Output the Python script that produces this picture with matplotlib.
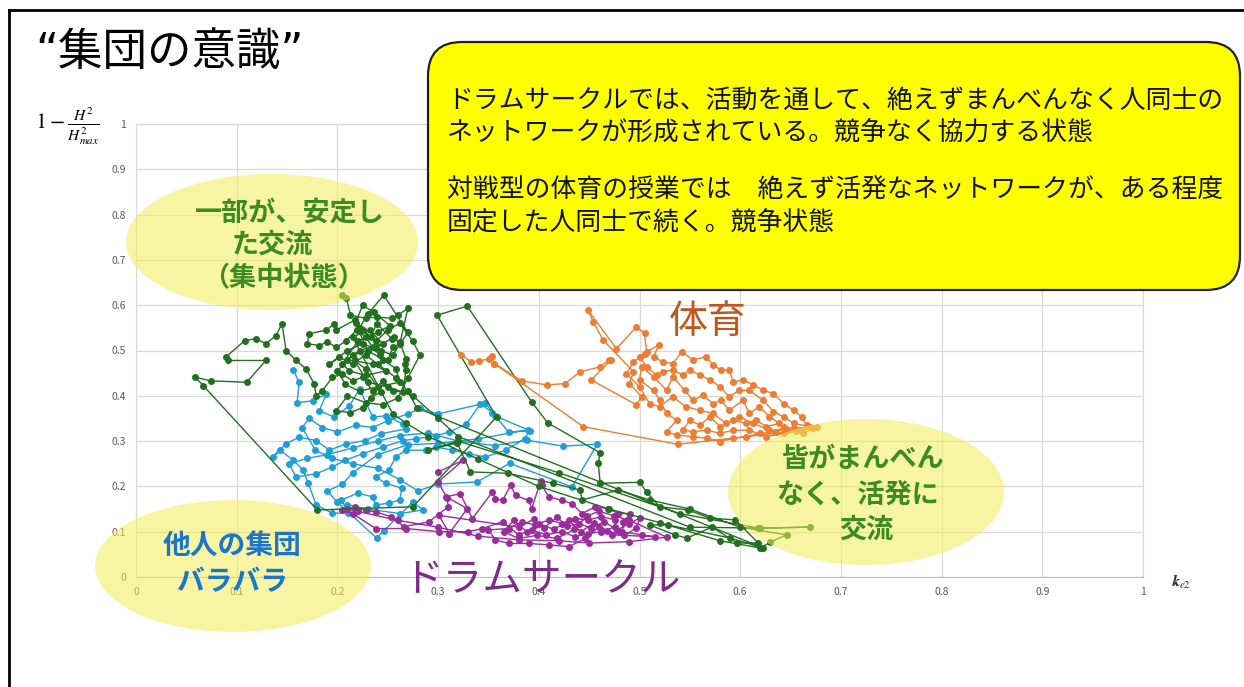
import matplotlib
matplotlib.use("Agg")
import matplotlib.pyplot as plt
from matplotlib.patches import Ellipse, FancyBboxPatch
import numpy as np

plt.rcParams['font.family'] = ['Noto Sans CJK JP', 'DejaVu Sans']
plt.rcParams['mathtext.fontset'] = 'stix'

# ---------------- data (x = k_e2, y = 1 - H^2/H^2max) ----------------
orange_xy = [
    (0.323,0.490),(0.333,0.475),(0.341,0.477),(0.351,0.482),(0.354,0.487),(0.356,0.471),
    (0.383,0.433),(0.408,0.424),(0.426,0.427),(0.441,0.453),(0.461,0.464),(0.470,0.479),(0.472,0.480),(0.452,0.435),
    (0.497,0.380),(0.502,0.398),(0.490,0.427),(0.494,0.453),(0.464,0.523),(0.454,0.563),(0.449,0.589),(0.477,0.504),
    (0.497,0.552),(0.505,0.538),(0.507,0.497),(0.519,0.512),(0.514,0.486),(0.523,0.475),(0.533,0.471),(0.542,0.497),
    (0.553,0.479),(0.566,0.486),(0.573,0.468),(0.581,0.457),(0.589,0.457),(0.593,0.431),(0.603,0.435),(0.613,0.424),
    (0.623,0.412),(0.633,0.405),(0.643,0.383),(0.653,0.368),(0.661,0.354),(0.666,0.335),(0.676,0.332),(0.653,0.328),
    (0.643,0.332),(0.636,0.321),(0.620,0.317),(0.606,0.310),(0.593,0.306),(0.580,0.299),(0.567,0.306),(0.553,0.310),
    (0.537,0.313),(0.527,0.321),(0.537,0.346),(0.527,0.361),(0.520,0.390),(0.514,0.412),(0.500,0.435),(0.502,0.464),
    (0.514,0.442),(0.527,0.412),(0.533,0.442),(0.545,0.412),(0.553,0.390),(0.563,0.401),(0.573,0.383),(0.581,0.390),
    (0.589,0.368),(0.603,0.390),(0.609,0.361),(0.619,0.376),(0.629,0.354),(0.639,0.339),(0.626,0.332),(0.616,0.346),
    (0.606,0.339),(0.593,0.346),(0.580,0.332),(0.570,0.354),(0.560,0.335),(0.550,0.346),(0.543,0.324),(0.553,0.321),
    (0.567,0.324),(0.580,0.317),(0.593,0.324),(0.609,0.324),(0.626,0.310),(0.643,0.317),(0.659,0.324),(0.669,0.332),
    (0.653,0.339),(0.643,0.354),(0.633,0.365),(0.623,0.390),(0.609,0.412),(0.599,0.412),(0.589,0.398),(0.580,0.420),
    (0.570,0.435),(0.560,0.446),(0.550,0.457),(0.543,0.446),(0.533,0.457),(0.523,0.453),(0.517,0.446),(0.507,0.464),
    (0.500,0.486),(0.505,0.493),(0.494,0.475),(0.487,0.449),(0.500,0.420),(0.510,0.383),(0.520,0.376),(0.533,0.398),
    (0.546,0.376),(0.560,0.368),(0.573,0.361),(0.586,0.339),(0.599,0.354),(0.613,0.339),(0.629,0.324),(0.646,0.324),
    (0.662,0.317),(0.672,0.328),(0.655,0.322),(0.538,0.293),(0.444,0.332),(0.356,0.471),
]

blue_xy = [
    (0.156,0.458),(0.162,0.430),(0.160,0.385),(0.176,0.389),(0.189,0.404),(0.182,0.367),(0.197,0.353),(0.212,0.378),
    (0.222,0.415),(0.235,0.353),(0.248,0.356),(0.265,0.338),(0.268,0.327),(0.243,0.316),(0.227,0.301),(0.209,0.294),
    (0.192,0.280),(0.179,0.301),(0.162,0.309),(0.149,0.294),(0.136,0.265),(0.143,0.280),(0.156,0.258),(0.166,0.236),
    (0.171,0.207),(0.179,0.159),(0.195,0.141),(0.211,0.141),(0.204,0.170),(0.220,0.185),(0.235,0.177),(0.238,0.159),
    (0.251,0.163),(0.262,0.170),(0.264,0.196),(0.248,0.207),(0.238,0.221),(0.251,0.236),(0.258,0.265),(0.268,0.280),
    (0.288,0.280),(0.298,0.287),(0.314,0.280),(0.331,0.272),(0.347,0.265),(0.367,0.280),(0.386,0.305),(0.391,0.323),
    (0.370,0.320),(0.354,0.363),(0.342,0.382),(0.328,0.338),(0.311,0.320),(0.298,0.312),(0.278,0.305),(0.265,0.301),
    (0.245,0.287),(0.225,0.272),(0.208,0.258),(0.195,0.243),(0.179,0.228),(0.159,0.221),(0.152,0.250),(0.170,0.262),
    (0.190,0.270),(0.215,0.285),(0.240,0.300),(0.262,0.312),(0.290,0.318),(0.320,0.300),(0.357,0.290),(0.388,0.302),
    (0.424,0.289),(0.458,0.293),(0.433,0.199),(0.371,0.251),(0.339,0.210),(0.300,0.205),(0.280,0.190),(0.262,0.215),
    (0.240,0.240),(0.215,0.250),(0.195,0.262),(0.178,0.280),(0.165,0.330),(0.172,0.350),(0.185,0.330),(0.200,0.320),
    (0.218,0.335),(0.235,0.330),(0.250,0.345),(0.270,0.360),(0.282,0.372),(0.300,0.360),(0.347,0.384),(0.357,0.355),
    (0.389,0.325),(0.340,0.305),(0.300,0.295),(0.270,0.292),(0.240,0.270),(0.215,0.230),(0.205,0.205),(0.190,0.190),
    (0.200,0.165),(0.239,0.086),(0.246,0.102),(0.275,0.166),(0.285,0.148),(0.262,0.140),(0.230,0.150),(0.210,0.160),
]

purple_xy = [
    (0.300,0.232),(0.325,0.258),(0.300,0.210),(0.309,0.174),(0.310,0.155),(0.291,0.122),(0.266,0.111),(0.253,0.133),
    (0.238,0.144),(0.228,0.147),(0.217,0.155),(0.205,0.147),(0.215,0.140),(0.238,0.107),(0.268,0.107),(0.301,0.100),
    (0.330,0.100),(0.344,0.107),(0.364,0.122),(0.380,0.093),(0.393,0.104),(0.407,0.093),(0.423,0.100),(0.436,0.089),
    (0.449,0.096),(0.462,0.100),(0.476,0.111),(0.476,0.126),(0.462,0.133),(0.449,0.126),(0.436,0.129),(0.423,0.118),
    (0.410,0.126),(0.396,0.115),(0.383,0.122),(0.370,0.107),(0.350,0.104),(0.357,0.082),(0.370,0.074),(0.390,0.074),
    (0.410,0.071),(0.430,0.067),(0.446,0.085),(0.460,0.111),(0.473,0.093),(0.515,0.089),(0.502,0.093),(0.483,0.100),
    (0.484,0.122),(0.491,0.140),(0.479,0.140),(0.469,0.151),(0.456,0.155),(0.443,0.140),(0.433,0.162),(0.423,0.169),
    (0.410,0.177),(0.403,0.202),(0.402,0.213),(0.393,0.151),(0.390,0.169),(0.377,0.180),(0.372,0.202),(0.364,0.169),
    (0.357,0.173),(0.354,0.188),(0.334,0.129),(0.322,0.184),(0.308,0.177),(0.329,0.151),(0.311,0.096),(0.301,0.136),
    (0.380,0.110),(0.395,0.128),(0.405,0.108),(0.418,0.132),(0.428,0.112),(0.440,0.118),(0.452,0.108),(0.465,0.122),
    (0.478,0.104),(0.490,0.118),(0.500,0.130),(0.497,0.108),(0.485,0.092),(0.468,0.102),(0.455,0.120),(0.442,0.100),
    (0.430,0.125),(0.415,0.105),(0.400,0.118),(0.388,0.100),(0.375,0.125),(0.365,0.100),(0.380,0.085),(0.398,0.092),
    (0.418,0.085),(0.435,0.105),(0.448,0.135),(0.460,0.145),(0.475,0.135),(0.490,0.125),(0.527,0.088),(0.490,0.078),
    (0.450,0.075),(0.420,0.080),(0.380,0.082),(0.340,0.090),(0.300,0.110),(0.260,0.125),(0.220,0.145),(0.210,0.150),
]

green_xy = [
    (0.205,0.622),(0.209,0.615),(0.213,0.578),(0.228,0.571),(0.239,0.574),(0.254,0.571),(0.260,0.578),(0.270,0.593),
    (0.262,0.515),(0.255,0.507),(0.250,0.478),(0.242,0.489),(0.235,0.507),(0.228,0.530),(0.219,0.545),(0.209,0.522),
    (0.199,0.507),(0.190,0.519),(0.182,0.511),(0.170,0.515),(0.172,0.537),(0.189,0.545),(0.197,0.559),(0.199,0.545),
    (0.217,0.567),(0.225,0.545),(0.233,0.530),(0.239,0.559),(0.254,0.526),(0.262,0.519),(0.268,0.482),(0.267,0.470),
    (0.268,0.456),(0.265,0.408),(0.255,0.411),(0.245,0.433),(0.235,0.411),(0.225,0.441),(0.215,0.433),(0.205,0.448),
    (0.195,0.441),(0.185,0.411),(0.179,0.400),(0.177,0.426),(0.169,0.459),(0.159,0.478),(0.149,0.500),(0.145,0.559),
    (0.139,0.533),(0.129,0.515),(0.119,0.526),(0.108,0.522),(0.089,0.485),(0.091,0.478),(0.129,0.478),(0.110,0.430),
    (0.074,0.433),(0.059,0.441),(0.067,0.422),(0.180,0.148),(0.275,0.155),(0.358,0.353),(0.299,0.578),(0.329,0.598),
    (0.393,0.386),(0.409,0.340),(0.461,0.274),(0.459,0.251),(0.461,0.207),(0.500,0.209),(0.507,0.188),(0.520,0.155),
    (0.548,0.148),(0.570,0.130),(0.595,0.126),(0.618,0.075),(0.597,0.075),(0.572,0.110),(0.547,0.086),(0.535,0.093),
    (0.510,0.115),(0.528,0.115),(0.590,0.086),(0.623,0.064),(0.279,0.373),(0.270,0.410),(0.258,0.440),(0.240,0.470),
    (0.228,0.490),(0.215,0.470),(0.202,0.485),(0.192,0.470),(0.210,0.500),(0.225,0.515),(0.243,0.500),(0.255,0.490),
    (0.270,0.540),(0.246,0.622),(0.230,0.580),(0.222,0.550),(0.238,0.520),(0.250,0.545),(0.262,0.560),(0.275,0.520),
    (0.282,0.490),(0.270,0.440),(0.260,0.395),(0.245,0.380),(0.228,0.385),(0.210,0.400),(0.199,0.367),(0.213,0.363),
    (0.225,0.374),(0.233,0.396),(0.243,0.408),(0.228,0.459),(0.217,0.478),(0.230,0.430),(0.250,0.420),(0.275,0.400),
    (0.300,0.350),(0.320,0.310),(0.550,0.110),(0.620,0.108),(0.669,0.110),(0.618,0.108),(0.540,0.140),(0.420,0.230),
    (0.320,0.300),(0.290,0.280),(0.319,0.296),(0.332,0.232),(0.369,0.229),(0.414,0.207),(0.441,0.192),(0.443,0.170),
    (0.479,0.192),(0.510,0.170),(0.550,0.150),(0.600,0.110),(0.646,0.093),(0.630,0.077),(0.620,0.064),(0.580,0.080),
    (0.520,0.120),(0.470,0.150),(0.400,0.200),(0.340,0.260),(0.290,0.310),(0.268,0.340),(0.255,0.360),
    (0.215,0.530),(0.232,0.545),(0.245,0.515),(0.222,0.500),(0.210,0.480),(0.235,0.470),(0.248,0.455),(0.228,0.445),
    (0.212,0.455),(0.205,0.470),(0.220,0.520),(0.240,0.540),(0.252,0.555),(0.236,0.585),(0.225,0.600),(0.218,0.560),
    (0.230,0.500),(0.245,0.480),(0.258,0.460),(0.262,0.430),(0.240,0.420),(0.222,0.410),(0.208,0.425),(0.200,0.455),
    (0.215,0.490),(0.238,0.505),(0.256,0.530),
]

x_ticks = [0, 0.1, 0.2, 0.3, 0.4, 0.5, 0.6, 0.7, 0.8, 0.9, 1]
x_tick_labels = ["0", "0.1", "0.2", "0.3", "0.4", "0.5", "0.6", "0.7", "0.8", "0.9", "1"]
y_ticks = [0, 0.1, 0.2, 0.3, 0.4, 0.5, 0.6, 0.7, 0.8, 0.9, 1]
y_tick_labels = ["0", "0.1", "0.2", "0.3", "0.4", "0.5", "0.6", "0.7", "0.8", "0.9", "1"]

series = [
    ("ドラムサークル(他)", blue_xy, "#1e9fd8"),
    ("ドラムサークル", purple_xy, "#9b2c9b"),
    ("集中", green_xy, "#21701f"),
    ("体育", orange_xy, "#ed7d31"),
]

# ---------------- figure ----------------
W, H = 1244, 687
fig = plt.figure(figsize=(W / 100, H / 100), dpi=100)
fig.patch.set_facecolor("white")

ax = fig.add_axes([136 / W, 1 - 577 / H, (1143 - 136) / W, (577 - 124) / H])
for name, pts, col in series:
    arr = np.array(pts)
    ax.plot(arr[:, 0], arr[:, 1], color=col, lw=1.0, marker="o", ms=4.0,
            mec=col, mfc=col, zorder=3)

ax.set_xlim(0, 1)
ax.set_ylim(0, 1)
ax.set_xticks(x_ticks)
ax.set_xticklabels(x_tick_labels)
ax.set_yticks(y_ticks)
ax.set_yticklabels(y_tick_labels)
ax.grid(True, color="#d9d9d9", lw=0.9, zorder=0)
ax.tick_params(length=0, labelsize=7.5, labelcolor="#595959", pad=7)
for s in ax.spines.values():
    s.set_color("#d9d9d9")
ax.spines["bottom"].set_color("#bfbfbf")
ax.set_axisbelow(True)

# ---------------- overlay in pixel coordinates ----------------
ov = fig.add_axes([0, 0, 1, 1], zorder=5)
ov.set_xlim(0, W)
ov.set_ylim(H, 0)
ov.axis("off")
ov.patch.set_alpha(0)

# slide frame
ov.plot([9, 9], [10, H], color="black", lw=2)
ov.plot([9, W], [10, 10], color="black", lw=2)

# title
ov.text(35, 52, "“集団の意識”", fontsize=32, ha="left", va="center",
        family=["DejaVu Sans", "Noto Sans CJK JP"])

# axis titles
ov.text(67, 127, r"$1-\frac{H^2}{H^2_{max}}$", fontsize=16, ha="center", va="center")
ov.text(1181, 582, r"$k\!\!\!k_{e2}$", fontsize=11, ha="center", va="center", color="#333333")

# ellipses (semi-transparent yellow)
ell_col = "#f2ee55"
for (cx, cy, ew, eh) in [(272, 242, 292, 136), (233, 566, 276, 132), (866, 492, 276, 146)]:
    ov.add_patch(Ellipse((cx, cy), ew, eh, facecolor=ell_col, edgecolor="none", alpha=0.55))

# yellow callout box
ov.add_patch(FancyBboxPatch((428, 42), 812, 248, boxstyle="round,pad=0,rounding_size=34",
                            facecolor="#ffff00", edgecolor="#222222", lw=1.6))
box_lines = [
    (100, "ドラムサークルでは、活動を通して、絶えずまんべんなく人同士の"),
    (132, "ネットワークが形成されている。競争なく協力する状態"),
    (190, "対戦型の体育の授業では　絶えず活発なネットワークが、ある程度"),
    (222, "固定した人同士で続く。競争状態"),
]
for yy, t in box_lines:
    ov.text(447, yy, t, fontsize=18.6, ha="left", va="center", color="#111111")

# labels
green_lab = "#3b8a22"
for (xx, yy, t) in [(290, 213, "一部が、安定し"), (272, 245, "た交流"), (283, 278, "（集中状態）")]:
    ov.text(xx, yy, t, fontsize=19.5, fontweight="bold", color=green_lab, ha="center", va="center")
for (xx, yy, t) in [(232, 546, "他人の集団"), (232, 582, "バラバラ")]:
    ov.text(xx, yy, t, fontsize=20, fontweight="bold", color="#1b74cf", ha="center", va="center")
for (xx, yy, t) in [(863, 459, "皆がまんべん"), (858, 495, "なく、活発に"), (866, 530, "交流")]:
    ov.text(xx, yy, t, fontsize=19.5, fontweight="bold", color=green_lab, ha="center", va="center")
ov.text(708, 322, "体育", fontsize=28, color="#c0561a", ha="center", va="center")
ov.text(542, 580, "ドラムサークル", fontsize=28.5, color="#7e2a88", ha="center", va="center")

fig.savefig("out.png", dpi=100)
